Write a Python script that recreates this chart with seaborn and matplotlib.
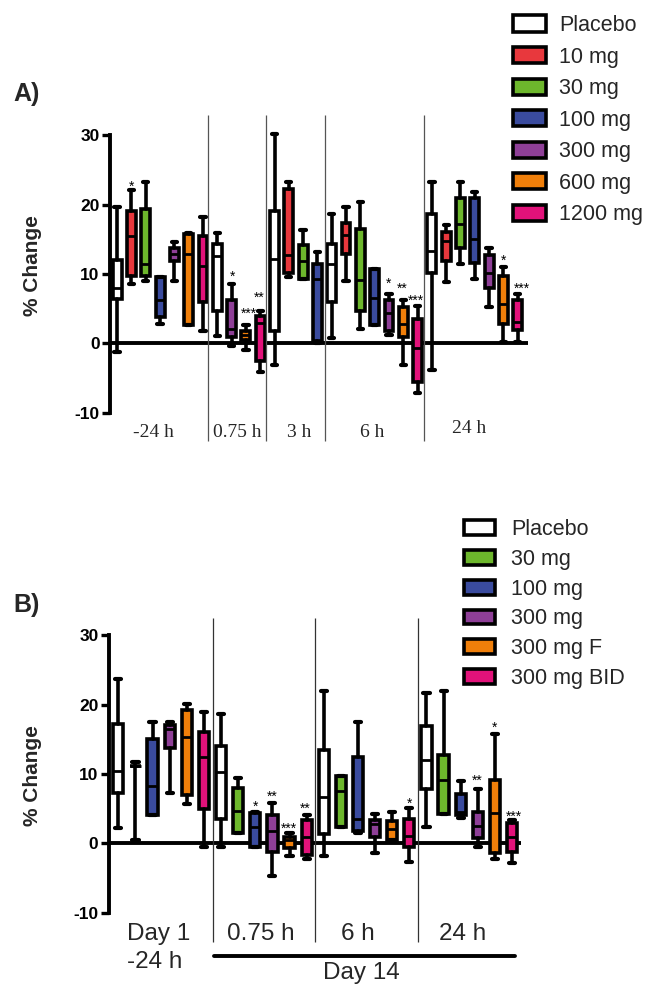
import numpy as np
import pandas as pd
import matplotlib
matplotlib.use("Agg")
import matplotlib.pyplot as plt
import seaborn as sns
from matplotlib.patches import Patch

# ---------------- data: panel A ----------------
A_doses = ["Placebo", "10 mg", "30 mg", "100 mg", "300 mg", "600 mg", "1200 mg"]
A_groups = ["-24 h", "0.75 h", "3 h", "6 h", "24 h"]
A_box_dose = ["Placebo", "10 mg", "30 mg", "100 mg", "300 mg", "600 mg", "1200 mg",
              "Placebo", "300 mg", "600 mg", "1200 mg",
              "Placebo", "10 mg", "30 mg", "100 mg",
              "Placebo", "10 mg", "30 mg", "100 mg", "300 mg", "600 mg", "1200 mg",
              "Placebo", "10 mg", "30 mg", "100 mg", "300 mg", "600 mg", "1200 mg"]
A_lo  = [-1.3, 8.5, 9.0, 2.8, 9.0, 2.6, 1.8,
         1.0, -0.4, -0.9, -4.2,
         -3.1, 9.5, 9.3, 0.1,
         0.7, 9.0, 2.05, 2.6, 1.2, -3.1, -7.2,
         -3.9, 8.9, 11.4, 9.3, 5.3, 0.25, 0.25]
A_q1  = [6.4, 9.7, 9.7, 3.8, 11.8, 2.6, 5.9,
         4.65, 0.95, 0.5, -2.5,
         1.8, 10.2, 9.3, 0.4,
         6.0, 12.9, 4.7, 2.6, 1.8, 0.95, -5.5,
         10.1, 11.8, 13.8, 11.6, 7.9, 2.8, 1.9]
A_med = [8.0, 15.4, 11.5, 6.3, 12.8, 12.8, 11.2,
         12.6, 2.05, 1.2, 2.9,
         12.1, 12.7, 11.8, 9.2,
         11.4, 15.6, 9.1, 6.6, 4.4, 2.8, -0.7,
         13.35, 14.8, 17.2, 15.1, 10.2, 5.7, 3.1]
A_q3  = [12.0, 19.1, 19.35, 9.5, 13.8, 15.7, 15.5,
         14.3, 6.3, 1.8, 3.9,
         19.0, 22.3, 14.2, 11.5,
         14.3, 17.4, 16.5, 10.65, 6.3, 5.2, 3.45,
         18.7, 16.1, 21.0, 21.0, 12.7, 9.75, 6.3]
A_hi  = [19.6, 22.1, 23.3, 9.5, 14.6, 15.9, 18.2,
         15.85, 8.5, 2.7, 4.65,
         30.1, 23.2, 16.3, 13.2,
         18.7, 19.7, 20.3, 10.65, 7.1, 6.2, 5.4,
         23.2, 17.1, 23.2, 21.8, 13.7, 11.0, 7.1]
A_star_text = ["*", "*", "***", "**", "*", "**", "***", "*", "***"]
A_star_x = [1.0, 8.06, 9.2, 9.95, 19.0, 19.9, 20.9, 27.04, 28.28]
A_star_y = [23.2, 10.1, 4.8, 7.1, 9.2, 8.4, 6.7, 12.5, 8.5]

# ---------------- data: panel B ----------------
B_doses = ["Placebo", "30 mg", "100 mg", "300 mg", "300 mg F", "300 mg BID"]
B_groups = ["Day 1", "0.75 h", "6 h", "24 h"]
B_box_dose = B_doses * 4
B_lo  = [2.2, 0.5, 4.1, 7.3, 5.6, -0.6,
         -0.6, 1.5, -0.5, -4.7, -1.8, -2.3,
         -1.8, 2.4, 1.5, -1.45, 0.5, -2.65,
         2.4, 4.2, 3.6, -0.5, -2.3, -2.8]
B_q1  = [7.2, 11.1, 4.1, 13.7, 6.9, 4.9,
         3.45, 1.5, -0.5, -1.3, -0.7, -1.7,
         1.35, 2.4, 1.8, 0.85, 0.5, -0.6,
         7.9, 4.2, 4.1, 0.7, -1.35, -1.2]
B_med = [10.4, 11.1, 8.3, 16.5, 15.4, 12.5,
         10.3, 4.7, 2.3, 1.8, 0.5, 0.95,
         6.7, 7.6, 3.45, 2.8, 2.05, 1.05,
         12.0, 9.1, 4.55, 2.5, 4.4, 0.95]
B_q3  = [17.2, 11.1, 15.0, 17.1, 19.2, 16.0,
         14.0, 8.0, 4.4, 4.1, 0.95, 3.35,
         13.5, 9.75, 12.4, 3.35, 3.25, 3.5,
         16.9, 12.75, 7.1, 4.55, 9.15, 2.9]
B_hi  = [23.7, 11.8, 17.55, 17.55, 20.05, 19.0,
         18.65, 9.4, 4.5, 5.85, 1.45, 4.1,
         22.0, 9.75, 17.55, 4.3, 4.55, 5.15,
         21.7, 22.0, 9.0, 7.85, 15.8, 3.35]
B_star_text = ["*", "**", "***", "**", "*", "**", "*", "***"]
B_star_x = [8.03, 9.0, 9.97, 10.93, 16.98, 20.95, 21.96, 23.1]
B_star_y = [5.8, 7.35, 2.65, 5.6, 6.25, 9.6, 17.2, 4.4]

COLORS = {"Placebo": "#FFFFFF", "10 mg": "#E8383D", "30 mg": "#6DB72C",
          "100 mg": "#3A4B9E", "300 mg": "#8E3F97", "600 mg": "#F07F0A",
          "1200 mg": "#E2127A", "300 mg F": "#F07F0A", "300 mg BID": "#E2127A"}

# ---------------- style ----------------
sns.set_style("white")
plt.rcParams["font.family"] = ["Liberation Sans", "DejaVu Sans"]

W, H = 649, 984
fig = plt.figure(figsize=(W / 100, H / 100), dpi=100)


def px_axes(left, right, top, bottom):
    return fig.add_axes([left / W, 1 - bottom / H, (right - left) / W, (bottom - top) / H])


def long_df(doses, lo, q1, med, q3, hi):
    rows = []
    for i, d in enumerate(doses):
        for v in (lo[i], q1[i], med[i], q3[i], hi[i]):
            rows.append((i, d, v))
    return pd.DataFrame(rows, columns=["slot", "dose", "value"])


def draw_boxes(ax, df, order, width):
    sns.boxplot(data=df, x="slot", y="value", hue="dose", hue_order=order,
                palette=COLORS, native_scale=True, dodge=False, orient="x",
                whis=(0, 100), width=width, saturation=1, linewidth=2.6,
                linecolor="black", fliersize=0, legend=False, ax=ax,
                capwidths=0.36 * width / 0.6,
                medianprops=dict(linewidth=2.0),
                capprops=dict(solid_capstyle="round", linewidth=3.0),
                whiskerprops=dict(solid_capstyle="round"))


def style_axis(ax, xlim, ylim, label_xy):
    ax.set_xlim(*xlim)
    ax.set_ylim(*ylim)
    for s in ["top", "right", "bottom"]:
        ax.spines[s].set_visible(False)
    ax.spines["left"].set_bounds(-10, 30)
    ax.spines["left"].set_linewidth(2.8)
    ax.spines["left"].set_color("black")
    ax.set_yticks([-10, 0, 10, 20, 30])
    ax.set_yticklabels(["-10", "0", "10", "20", "30"])
    ax.tick_params(axis="y", left=True, length=6, width=2.4, pad=1.5,
                   labelsize=12.5, direction="out", colors="black")
    for lab in ax.get_yticklabels():
        lab.set_fontweight("bold")
    ax.set_xticks([])
    ax.set_xlabel("")
    ax.set_ylabel("% Change", fontsize=15, fontweight="bold")
    ax.yaxis.set_label_coords(*label_xy)
    ax.patch.set_alpha(0)


def stars(ax, xs, ys, texts, fs=10):
    for x, y, t in zip(xs, ys, texts):
        ax.annotate(t, (x, y), xytext=(0, -0.58 * fs), textcoords="offset points",
                    ha="center", va="baseline", fontsize=fs, color="black")


# ---------------- panel A ----------------
axA = px_axes(110, 539.15, 110.8, 440.5)
dfA = long_df(A_box_dose, A_lo, A_q1, A_med, A_q3, A_hi)
axA.hlines(0, -0.5, 28.7, color="black", lw=2.8, zorder=0.5)
draw_boxes(axA, dfA, A_doses, 0.62)
style_axis(axA, (-0.5, 29.5), (-14, 33.5), (-0.158, 0.53))
axA.vlines([6.36, 10.39, 14.51, 21.43], -14, 32.9, color="#555555", lw=0.9, clip_on=False)
stars(axA, A_star_x, A_star_y, A_star_text)
A_label_x = [2.57, 8.4, 12.7, 17.83, 24.63]
A_label_y = [-12.9, -12.9, -12.9, -12.9, -12.3]
for g, x, y in zip(A_groups, A_label_x, A_label_y):
    axA.text(x, y, g, ha="center", va="center", fontsize=14,
             family=["Liberation Serif", "DejaVu Serif"], clip_on=False)
fig.text(27 / W, 1 - 94 / H, "A)", fontsize=18, fontweight="bold", ha="center", va="center")

handlesA = [Patch(facecolor=COLORS[d], edgecolor="black", linewidth=2.6, label=d) for d in A_doses]
fig.legend(handles=handlesA, loc="upper left", bbox_to_anchor=(513 / W, 1 - 15 / H),
           frameon=False, fontsize=15.5, handlelength=1.55, handleheight=0.78,
           handletextpad=0.6, labelspacing=0.49, borderpad=0, borderaxespad=0)

# ---------------- panel B ----------------
axB = px_axes(108.9, 529.2, 614.6, 943.8)
dfB = long_df(B_box_dose, B_lo, B_q1, B_med, B_q3, B_hi)
axB.hlines(0, -0.55, 23.55, color="black", lw=2.8, zorder=0.5)
draw_boxes(axB, dfB, B_doses, 0.6)
style_axis(axB, (-0.55, 24), (-14.5, 33), (-0.158, 0.51))
axB.vlines([5.55, 11.5, 17.52], -14.25, 32.5, color="#333333", lw=0.9, clip_on=False)
stars(axB, B_star_x, B_star_y, B_star_text)
B_label_x = [2.38, 8.34, 13.97, 20.13]
for g, x in zip(B_groups, B_label_x):
    axB.text(x, -13.1, g, ha="center", va="center", fontsize=17.5, clip_on=False)
axB.text(2.14, -17.1, "-24 h", ha="center", va="center", fontsize=17.5, clip_on=False)
axB.plot([5.59, 23.17], [-16.2, -16.2], color="black", lw=2.8, clip_on=False,
         solid_capstyle="round")
axB.text(14.2, -18.7, "Day 14", ha="center", va="center", fontsize=17.5, clip_on=False)
fig.text(27 / W, 1 - 605 / H, "B)", fontsize=18, fontweight="bold", ha="center", va="center")

handlesB = [Patch(facecolor=COLORS[d], edgecolor="black", linewidth=2.6, label=d) for d in B_doses]
fig.legend(handles=handlesB, loc="upper left", bbox_to_anchor=(464 / W, 1 - 519 / H),
           frameon=False, fontsize=15.5, handlelength=1.45, handleheight=0.68,
           handletextpad=0.75, labelspacing=0.41, borderpad=0, borderaxespad=0)

fig.savefig("out.png", dpi=100)
